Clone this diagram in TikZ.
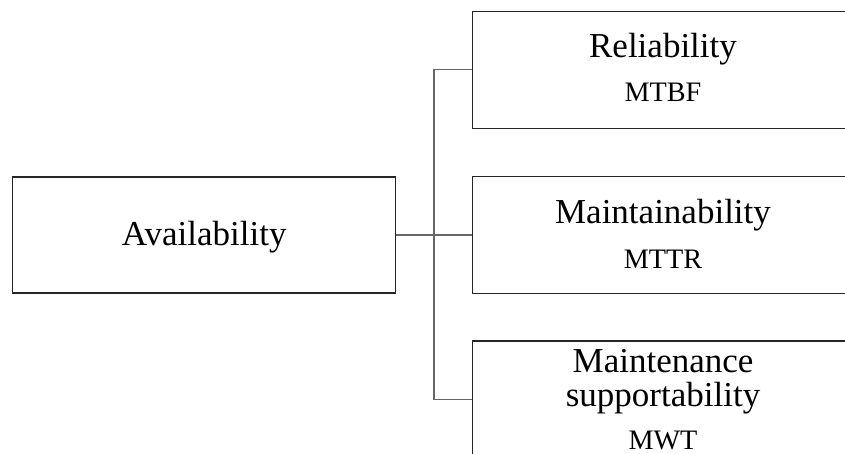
\documentclass[tikz,border=0pt]{standalone}
\usepackage{fontspec}
\setmainfont{Liberation Serif}
\begin{document}
\begin{tikzpicture}[x=1pt,y=-1pt,
  boxshape/.style={draw=black!85,line width=1.4pt,rectangle,inner sep=0pt},
  bigtext/.style={anchor=base,inner sep=0pt,font=\fontsize{35}{40}\selectfont},
  smalltext/.style={anchor=base,inner sep=0pt,font=\fontsize{28.2}{32}\selectfont},
  link/.style={draw=black!60,line width=1.1pt}]
\useasboundingbox (0,0) rectangle (845,454);
\clip (0,0) rectangle (845,454);
\fill[white] (0,0) rectangle (845,454);
% boxes
\node[boxshape,minimum width=383pt,minimum height=116.3pt] (avail) at (204.2,235) {};
\node[boxshape,minimum width=381.3pt,minimum height=117pt] (rel) at (663.35,69.8) {};
\node[boxshape,minimum width=381.3pt,minimum height=116.6pt] (maint) at (663.35,235) {};
\node[boxshape,minimum width=381.3pt,minimum height=117pt] (sup) at (663.35,399.5) {};
% texts
\node[bigtext] (availT) at (204.2,245) {Availability};
\node[bigtext] (relT) at (663,58) {Reliability};
\node[smalltext] (relS) at (663,102) {MTBF};
\node[bigtext] (maintT) at (663,224) {Maintainability};
\node[smalltext] (maintS) at (663,268) {MTTR};
\node[bigtext] (supT1) at (663,372) {Maintenance};
\node[bigtext] (supT2) at (663,406) {supportability};
\node[smalltext] (supS) at (663,449) {MWT};
% connectors
\coordinate (j) at (434,235);
\draw[link] (avail.east) -- (maint.west);
\draw[link] (rel.west) -| (j) |- (sup.west);
\end{tikzpicture}
\end{document}
